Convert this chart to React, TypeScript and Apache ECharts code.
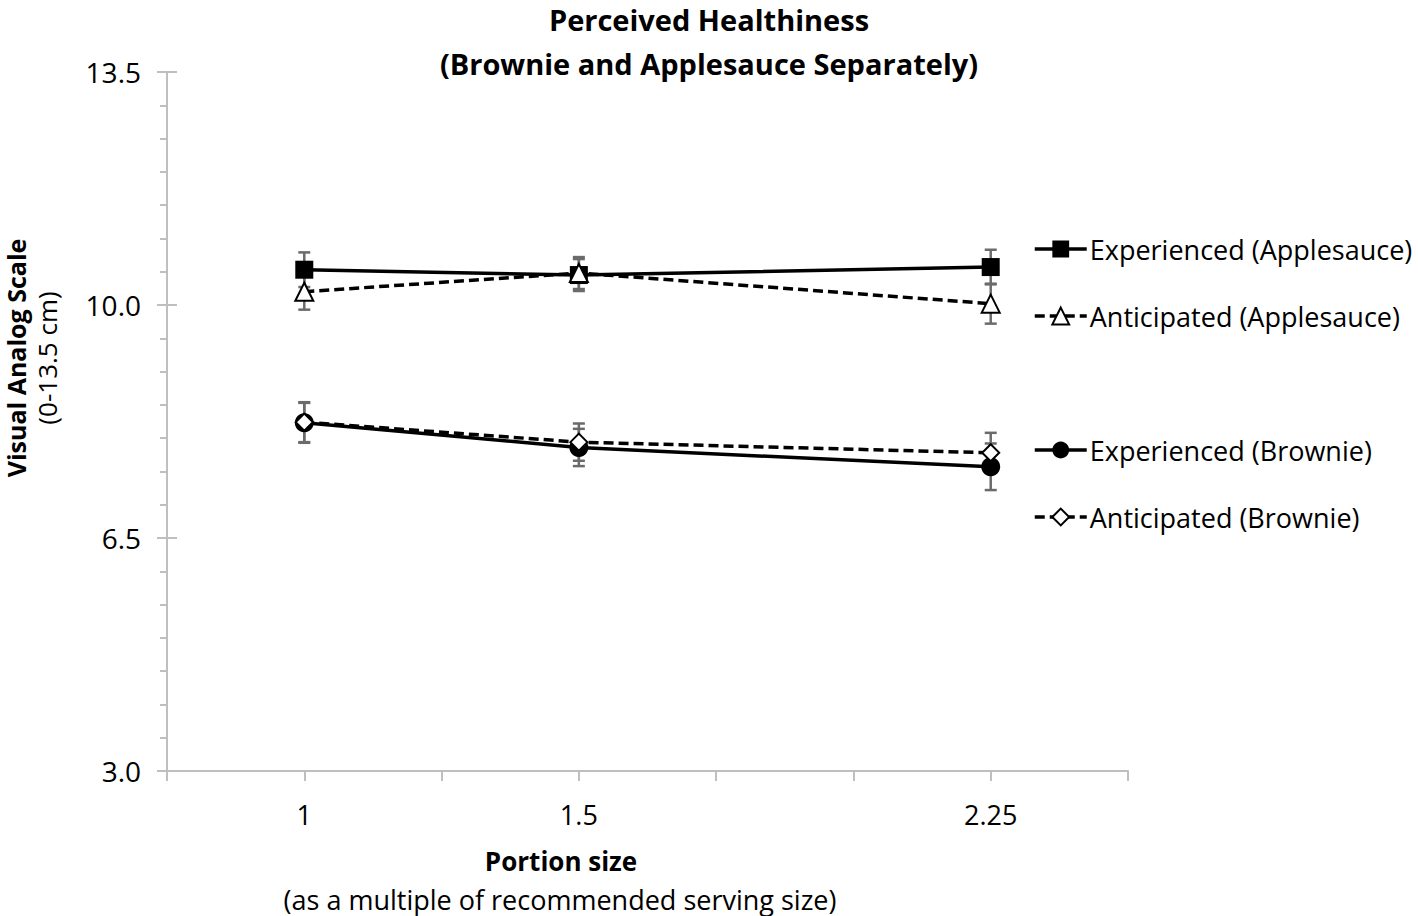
import React, { useEffect, useRef } from "react";
import * as echarts from "echarts";

const portionSizes = [1, 1.5, 2.25];
const xTickLabels = ["1", "1.5", "2.25"];

const seriesNames = [
  "Experienced (Applesauce)",
  "Anticipated (Applesauce)",
  "Experienced (Brownie)",
  "Anticipated (Brownie)",
];
const expApplesauce = [10.53, 10.45, 10.57];
const antApplesauce = [10.2, 10.48, 10.02];
const expBrownie = [8.23, 7.86, 7.57];
const antBrownie = [8.24, 7.94, 7.78];

const expApplesauceSE = [0.26, 0.24, 0.26];
const antApplesauceSE = [0.27, 0.24, 0.3];
const expBrownieSE = [0.3, 0.28, 0.35];
const antBrownieSE = [0.3, 0.28, 0.3];

const FONT = "'Open Sans', 'Noto Sans', sans-serif";

function App() {
  const ref = useRef<HTMLDivElement>(null);

  useEffect(() => {
    if (!ref.current) return;
    const chart = echarts.init(ref.current, undefined, { renderer: "svg" });

    const means = [expApplesauce, antApplesauce, expBrownie, antBrownie];
    const ses = [expApplesauceSE, antApplesauceSE, expBrownieSE, antBrownieSE];
    const symbols = ["rect", "triangle", "circle", "diamond"];
    const symbolSizes = [18, 18, 19, 17];
    const hollow = [false, true, false, true];
    const dashed = [false, true, false, true];

    const lineSeries = means.map((vals, i) => ({
      name: seriesNames[i],
      type: "line",
      data: vals.map((v, j) => [portionSizes[j], v]),
      symbol: symbols[i],
      symbolSize: symbolSizes[i],
      showAllSymbol: true,
      z: 3 + (hollow[i] ? 1 : 0),
      lineStyle: {
        color: "#000",
        width: 3.5,
        type: dashed[i] ? [10, 5] : "solid",
      },
      itemStyle: hollow[i]
        ? { color: "#fff", borderColor: "#000", borderWidth: 2 }
        : { color: "#000", borderColor: "#000", borderWidth: 0 },
      emphasis: { disabled: true },
    }));

    const errorSeries = means.map((vals, i) => ({
      type: "custom",
      z: 1,
      silent: true,
      data: vals.map((v, j) => [portionSizes[j], v, ses[i][j]]),
      renderItem: (params: any, api: any) => {
        const x = api.value(0);
        const m = api.value(1);
        const se = api.value(2);
        const top = api.coord([x, m + se]);
        const bot = api.coord([x, m - se]);
        const cap = 6;
        const style = { stroke: "#6b6b6b", lineWidth: 2.5 };
        return {
          type: "group",
          children: [
            { type: "line", shape: { x1: top[0], y1: top[1], x2: bot[0], y2: bot[1] }, style },
            { type: "line", shape: { x1: top[0] - cap, y1: top[1], x2: top[0] + cap, y2: top[1] }, style },
            { type: "line", shape: { x1: bot[0] - cap, y1: bot[1], x2: bot[0] + cap, y2: bot[1] }, style },
          ],
        };
      },
    }));

    const legendCommon = {
      orient: "vertical",
      left: 1033,
      padding: 0,
      itemWidth: 52,
      itemHeight: 21,
      itemGap: 37,
      selectedMode: false,
      lineStyle: { width: 3.5 },
      textStyle: { fontFamily: FONT, fontSize: 27, color: "#000", lineHeight: 30, padding: [0, 0, 0, -2] },
    };

    const option: any = {
      animation: false,
      backgroundColor: "#fff",
      grid: { left: 167, right: 290, top: 72, bottom: 145, containLabel: false },
      legend: [
        { ...legendCommon, top: 234, data: [seriesNames[0], seriesNames[1]] },
        { ...legendCommon, top: 435, data: [seriesNames[2], seriesNames[3]] },
      ],
      xAxis: {
        type: "value",
        min: 0.75,
        max: 2.5,
        interval: 0.25,
        splitLine: { show: false },
        axisLine: { show: true, onZero: false, lineStyle: { color: "#bfbfbf", width: 2 } },
        axisTick: { show: true, inside: false, length: 10, lineStyle: { color: "#bfbfbf", width: 2 } },
        axisLabel: {
          margin: 30,
          fontFamily: FONT,
          fontSize: 27,
          color: "#000",
          showMinLabel: true,
          showMaxLabel: true,
          formatter: (v: number) => {
            const idx = portionSizes.findIndex((p) => Math.abs(p - v) < 1e-6);
            return idx >= 0 ? xTickLabels[idx] : "";
          },
        },
      },
      yAxis: [
        {
          type: "value",
          min: 3,
          max: 13.5,
          interval: 3.5,
          splitLine: { show: false },
          axisLine: { show: true, onZero: false, lineStyle: { color: "#bfbfbf", width: 2 } },
          axisTick: { show: true, inside: false, length: 10, lineStyle: { color: "#bfbfbf", width: 2 } },
          minorTick: { show: true, splitNumber: 7, length: 7, lineStyle: { color: "#bfbfbf", width: 2 } },
          axisLabel: {
            margin: 26,
            fontFamily: FONT,
            fontSize: 28,
            color: "#000",
            formatter: (v: number) => v.toFixed(1),
          },
        },
        {
          type: "value",
          position: "left",
          min: 3,
          max: 13.5,
          interval: 3.5,
          splitLine: { show: false },
          axisLine: { show: false },
          axisLabel: { show: false },
          axisTick: { show: true, inside: true, length: 10, lineStyle: { color: "#bfbfbf", width: 2 } },
        },
      ],
      graphic: [
        {
          type: "text",
          x: 709,
          y: 19,
          style: {
            text: "Perceived Healthiness",
            textAlign: "center",
            textVerticalAlign: "middle",
            fontFamily: FONT,
            fontSize: 29,
            fontWeight: "bold",
            fill: "#000",
          },
        },
        {
          type: "text",
          x: 709,
          y: 63,
          style: {
            text: "(Brownie and Applesauce Separately)",
            textAlign: "center",
            textVerticalAlign: "middle",
            fontFamily: FONT,
            fontSize: 29,
            fontWeight: "bold",
            fill: "#000",
          },
        },
        {
          type: "text",
          x: 16,
          y: 358,
          rotation: Math.PI / 2,
          style: {
            text: "Visual Analog Scale",
            textAlign: "center",
            textVerticalAlign: "middle",
            fontFamily: FONT,
            fontSize: 25,
            fontWeight: "bold",
            fill: "#000",
          },
        },
        {
          type: "text",
          x: 47,
          y: 358,
          rotation: Math.PI / 2,
          style: {
            text: "(0-13.5 cm)",
            textAlign: "center",
            textVerticalAlign: "middle",
            fontFamily: FONT,
            fontSize: 26,
            fill: "#000",
          },
        },
        {
          type: "text",
          x: 561,
          y: 861,
          style: {
            text: "Portion size",
            textAlign: "center",
            textVerticalAlign: "middle",
            fontFamily: FONT,
            fontSize: 26,
            fontWeight: "bold",
            fill: "#000",
          },
        },
        {
          type: "text",
          x: 560,
          y: 899,
          style: {
            text: "(as a multiple of recommended serving size)",
            textAlign: "center",
            textVerticalAlign: "middle",
            fontFamily: FONT,
            fontSize: 27,
            fill: "#000",
          },
        },
      ],
      series: [...errorSeries, ...lineSeries],
    };

    chart.setOption(option);
    return () => chart.dispose();
  }, []);

  return (
    <div
      ref={ref}
      style={{ position: "fixed", left: 0, top: 0, width: 1418, height: 916, background: "#fff" }}
    />
  );
}

export default App;
